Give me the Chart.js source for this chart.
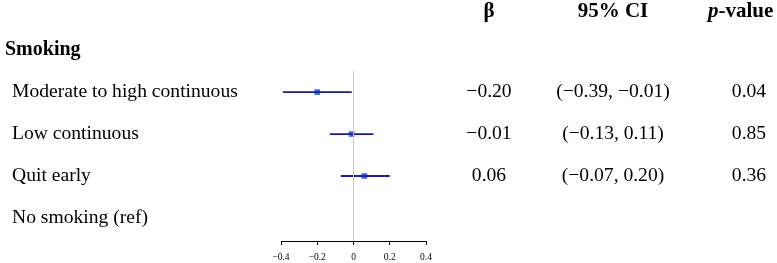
<!DOCTYPE html>
<html>
<head>
<meta charset="utf-8">
<script src="https://cdn.jsdelivr.net/npm/chart.js@4.4.1/dist/chart.umd.min.js"></script>
<style>
  html, body { margin: 0; padding: 0; background: #fff; }
  canvas { display: block; }
</style>
</head>
<body>
<canvas id="forestChart" width="777" height="263"></canvas>
<script>
const groupTitle = 'Smoking';
const rowLabels = ['Moderate to high continuous', 'Low continuous', 'Quit early', 'No smoking (ref)'];
const betas = [-0.20, -0.01, 0.06, null];
const ciLow = [-0.39, -0.13, -0.07, null];
const ciHigh = [-0.01, 0.11, 0.20, null];
const betaText = ['\u22120.20', '\u22120.01', '0.06', ''];
const ciText = ['(\u22120.39, \u22120.01)', '(\u22120.13, 0.11)', '(\u22120.07, 0.20)', ''];
const pText = ['0.04', '0.85', '0.36', ''];
const xTicks = [-0.4, -0.2, 0, 0.2, 0.4];

const serif = '"Liberation Serif", "Times New Roman", serif';

document.addEventListener("DOMContentLoaded", function () {
    const ctx = document.getElementById('forestChart');

    const datasets = [];
    // reference line at zero
    datasets.push({
        data: [{ x: 0, y: -0.5 }, { x: 0, y: 3.55 }],
        showLine: true,
        borderColor: '#c8c8c8',
        borderWidth: 1,
        pointRadius: 0
    });
    // confidence intervals
    rowLabels.forEach(function (label, i) {
        if (betas[i] === null) return;
        datasets.push({
            data: [{ x: ciLow[i], y: i }, { x: ciHigh[i], y: i }],
            showLine: true,
            borderColor: '#1c1c8a',
            borderWidth: 1.8,
            pointRadius: 0
        });
    });
    // point estimates
    datasets.push({
        data: betas.map(function (b, i) { return b === null ? null : { x: b, y: i }; }).filter(Boolean),
        pointStyle: 'rect',
        pointRadius: 4,
        backgroundColor: '#4169e1',
        borderColor: '#4169e1',
        borderWidth: 0
    });

    const tablePlugin = {
        id: 'tableText',
        afterDraw: function (chart) {
            const c = chart.ctx;
            const y = chart.scales.y;
            c.save();
            c.fillStyle = '#000';
            c.textBaseline = 'middle';

            // column headers
            const hy = y.getPixelForValue(-1.91);
            c.font = 'bold 21px ' + serif;
            c.textAlign = 'center';
            c.fillText('\u03b2', 489, hy);
            c.fillText('95% CI', 613, hy);
            c.textAlign = 'left';
            c.font = 'italic bold 21px ' + serif;
            const pw = c.measureText('p').width;
            c.fillText('p', 708, hy);
            c.font = 'bold 21px ' + serif;
            c.fillText('-value', 708 + pw, hy);

            // group heading
            c.font = 'bold 20px ' + serif;
            c.fillText(groupTitle, 5, y.getPixelForValue(-1));

            // rows
            c.font = '19.6px ' + serif;
            rowLabels.forEach(function (label, i) {
                const ry = y.getPixelForValue(i);
                c.textAlign = 'left';
                c.fillText(label, 12, ry);
                c.textAlign = 'center';
                c.fillText(betaText[i], 489, ry);
                c.fillText(ciText[i], 613, ry);
                c.fillText(pText[i], 749, ry);
            });
            c.restore();
        }
    };

    new Chart(ctx, {
        type: 'scatter',
        data: { datasets: datasets },
        options: {
            responsive: false,
            animation: false,
            layout: { padding: { left: 281, right: 351, top: 1, bottom: 0 } },
            plugins: {
                legend: { display: false },
                tooltip: { enabled: false }
            },
            scales: {
                x: {
                    type: 'linear',
                    min: -0.4,
                    max: 0.4,
                    afterBuildTicks: function (axis) {
                        axis.ticks = xTicks.map(function (v) { return { value: v }; });
                    },
                    afterFit: function (axis) { axis.height = 22; },
                    grid: {
                        drawOnChartArea: false,
                        drawTicks: true,
                        tickLength: 4,
                        color: '#000',
                        lineWidth: 1
                    },
                    border: { display: true, color: '#000', width: 1 },
                    ticks: {
                        padding: 7,
                        color: '#000',
                        font: { family: serif, size: 9.5 },
                        callback: function (v) {
                            if (v === 0) return '0';
                            return v.toFixed(1).replace('-', '\u2212');
                        }
                    }
                },
                y: {
                    type: 'linear',
                    display: false,
                    reverse: true,
                    min: -2.1,
                    max: 3.55
                }
            }
        },
        plugins: [tablePlugin]
    });
});
</script>
</body>
</html>
